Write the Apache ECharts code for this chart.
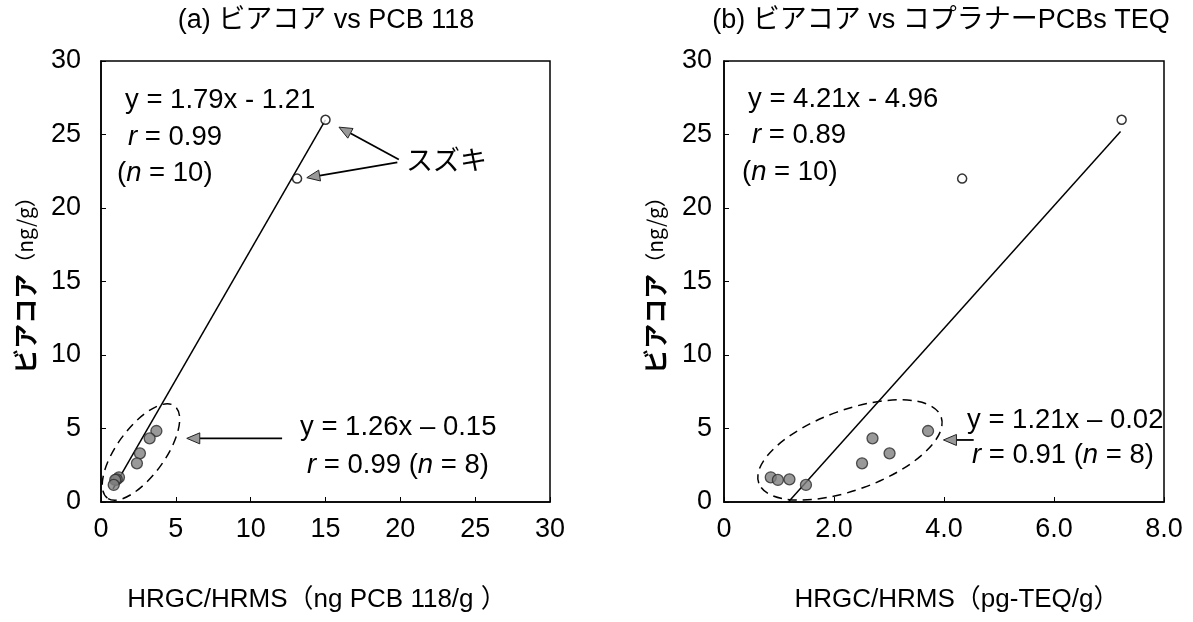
<!DOCTYPE html>
<html><head><meta charset="utf-8">
<script src="https://cdn.jsdelivr.net/npm/echarts@6/dist/echarts.min.js"></script>
<style>html,body{margin:0;padding:0;background:#fff}#c{width:1193px;height:622px}</style>
</head><body><div id="c"></div>
<script>
// ---------- data ----------
const titleA = '(a) ビアコア vs PCB 118';
const titleB = '(b) ビアコア vs コプラナーPCBs TEQ';
const xNameA = 'HRGC/HRMS（ng PCB 118/g ）';
const xNameB = 'HRGC/HRMS（pg-TEQ/g）';
const yNameMain = 'ビアコア';
const yNameUnit = '（ng/g）';
const xTickLabelsB = ['0', '2.0', '4.0', '6.0', '8.0'];

// filled points (n = 8), y = Biacore (ng/g)
const biacoreFilled = [4.83, 4.33, 3.31, 2.63, 1.68, 1.54, 1.50, 1.16];
const pcb118Filled  = [3.7, 3.25, 2.6, 2.4, 1.2, 1.05, 0.95, 0.85];
const teqFilled     = [3.71, 2.70, 3.01, 2.51, 0.85, 1.19, 0.98, 1.49];
// open points (スズキ)
const biacoreOpen = [26.0, 22.0];
const pcb118Open  = [15.0, 13.1];
const teqOpen     = [7.23, 4.33];
// regression lines (end points)
const lineA = [[0.8, 0.9], [15.0, 26.0]];
const lineB = [[1.17, 0.0], [7.21, 25.2]];

const FONT = "'Liberation Sans','Noto Sans CJK JP',sans-serif";
const JFONT = "'Noto Sans CJK JP','Liberation Sans',sans-serif";
const pairs = (xs, ys) => xs.map((x, i) => [x, ys[i]]);

const chart = echarts.init(document.getElementById('c'), null, {renderer: 'canvas'});

function ellipseSeries(idx, center, rx, ry, rotDeg) {
  return {
    type: 'custom', xAxisIndex: idx, yAxisIndex: idx, clip: true, silent: true, z: 1,
    data: [center],
    renderItem: (params, api) => {
      const p = api.coord([api.value(0), api.value(1)]);
      return {
        type: 'ellipse', x: p[0], y: p[1], rotation: rotDeg * Math.PI / 180,
        shape: {cx: 0, cy: 0, rx: rx, ry: ry},
        style: {fill: 'none', stroke: '#000', lineWidth: 1.5, lineDash: [9, 6]}
      };
    }
  };
}
function arrowSeries(idx, arrows) {
  return {
    type: 'custom', xAxisIndex: idx, yAxisIndex: idx, silent: true, z: 5,
    encode: {x: [0, 2], y: [1, 3]},
    data: arrows,
    renderItem: (params, api) => {
      const a = api.coord([api.value(0), api.value(1)]);
      const b = api.coord([api.value(2), api.value(3)]);
      const ang = Math.atan2(b[1] - a[1], b[0] - a[0]);
      const L = 13, W = 5.5;
      const bx = b[0] - L * Math.cos(ang), by = b[1] - L * Math.sin(ang);
      const s = Math.sin(ang), c = Math.cos(ang);
      return {type: 'group', children: [
        {type: 'line', shape: {x1: a[0], y1: a[1], x2: bx, y2: by}, style: {stroke: '#000', lineWidth: 1.8}},
        {type: 'polygon', shape: {points: [[b[0], b[1]], [bx - W * s, by + W * c], [bx + W * s, by - W * c]]},
         style: {fill: '#999', stroke: '#222', lineWidth: 1}}
      ]};
    }
  };
}

const axisCommon = {
  type: 'value', min: 0,
  axisLine: {show: true, lineStyle: {color: '#000', width: 1.5}},
  axisTick: {show: true, inside: true, length: 5, lineStyle: {color: '#000', width: 1}},
  splitLine: {show: false},
  axisLabel: {color: '#000', fontSize: 27, fontFamily: FONT}
};

const filledStyle = {color: '#808080', borderColor: '#2a2a2a', borderWidth: 1.3};
const openStyle = {color: '#fff', borderColor: '#000', borderWidth: 1.5};

const txt = (x, y, text, size, align, rich) => ({
  type: 'text', x: x, y: y, z: 10,
  style: {text: text, fill: '#000', fontSize: size, fontFamily: FONT, align: align || 'left', verticalAlign: 'middle',
          rich: rich || {}}
});
const itRich = {i: {fontStyle: 'italic', fontSize: 27.5, fontFamily: FONT}};
const yNameText = (x) => ({
  type: 'text', x: x, y: 280, rotation: Math.PI / 2, z: 10,
  style: {
    text: '{a|' + yNameMain + '}{b|' + yNameUnit + '}', align: 'center', verticalAlign: 'middle',
    rich: {
      a: {fontSize: 25, fontWeight: 'bold', fontFamily: JFONT, fill: '#000', verticalAlign: 'middle'},
      b: {fontSize: 21, fontFamily: JFONT, fill: '#000', verticalAlign: 'middle'}
    }
  }
});

const option = {
  backgroundColor: '#fff',
  animation: false,
  grid: [
    {left: 101, top: 61, width: 449, height: 441, show: true, borderColor: '#000', borderWidth: 1.5, backgroundColor: 'transparent'},
    {left: 724, top: 61, width: 440, height: 441, show: true, borderColor: '#000', borderWidth: 1.5, backgroundColor: 'transparent'}
  ],
  xAxis: [
    Object.assign({}, axisCommon, {gridIndex: 0, max: 30, interval: 5,
      axisLabel: Object.assign({}, axisCommon.axisLabel, {margin: 14})}),
    Object.assign({}, axisCommon, {gridIndex: 1, max: 8, interval: 2,
      axisLabel: Object.assign({}, axisCommon.axisLabel, {margin: 14, formatter: v => xTickLabelsB[Math.round(v / 2)]})})
  ],
  yAxis: [
    Object.assign({}, axisCommon, {gridIndex: 0, max: 30, interval: 5,
      axisLabel: Object.assign({}, axisCommon.axisLabel, {margin: 20})}),
    Object.assign({}, axisCommon, {gridIndex: 1, max: 30, interval: 5,
      axisLabel: Object.assign({}, axisCommon.axisLabel, {margin: 12})})
  ],
  series: [
    ellipseSeries(0, [2.67, 3.4], 57, 24, 54),
    {type: 'line', xAxisIndex: 0, yAxisIndex: 0, data: lineA, symbol: 'none', z: 2,
     lineStyle: {color: '#000', width: 1.5}},
    {type: 'scatter', xAxisIndex: 0, yAxisIndex: 0, data: pairs(pcb118Filled, biacoreFilled), symbolSize: 11, z: 3, itemStyle: filledStyle},
    {type: 'scatter', xAxisIndex: 0, yAxisIndex: 0, data: pairs(pcb118Open, biacoreOpen), symbolSize: 9, z: 3, itemStyle: openStyle},
    arrowSeries(0, [[19.9, 23.3, 15.9, 25.5], [19.8, 23.1, 13.75, 22.06], [12.1, 4.33, 5.73, 4.33]]),

    ellipseSeries(1, [2.29, 3.54], 97, 40, 20),
    {type: 'line', xAxisIndex: 1, yAxisIndex: 1, data: lineB, symbol: 'none', z: 2,
     lineStyle: {color: '#000', width: 1.5}},
    {type: 'scatter', xAxisIndex: 1, yAxisIndex: 1, data: pairs(teqFilled, biacoreFilled), symbolSize: 11, z: 3, itemStyle: filledStyle},
    {type: 'scatter', xAxisIndex: 1, yAxisIndex: 1, data: pairs(teqOpen, biacoreOpen), symbolSize: 9, z: 3, itemStyle: openStyle},
    arrowSeries(1, [[4.54, 4.22, 3.99, 4.22]])
  ],
  graphic: [
    txt(326, 21, titleA, 27, 'center'),
    txt(941, 21, titleB, 27, 'center'),
    txt(317, 600, xNameA, 26, 'center'),
    txt(957, 600, xNameB, 26, 'center'),
    yNameText(25),
    yNameText(655),
    // panel (a)
    txt(125, 100, 'y = 1.79x - 1.21', 27.5),
    txt(128, 137, '{i|r} = 0.99', 27.5, 'left', itRich),
    txt(117, 173, '({i|n} = 10)', 27.5, 'left', itRich),
    txt(406, 163, 'スズキ', 27),
    txt(300, 427, 'y = 1.26x – 0.15', 27.5),
    txt(307, 465, '{i|r} = 0.99 ({i|n} = 8)', 27.5, 'left', itRich),
    // panel (b)
    txt(748, 99, 'y = 4.21x - 4.96', 27.5),
    txt(752, 135, '{i|r} = 0.89', 27.5, 'left', itRich),
    txt(742, 172, '({i|n} = 10)', 27.5, 'left', itRich),
    txt(967, 420, 'y = 1.21x – 0.02', 27.5),
    txt(972, 455, '{i|r} = 0.91 ({i|n} = 8)', 27.5, 'left', itRich)
  ]
};
chart.setOption(option);
</script>
</body></html>
